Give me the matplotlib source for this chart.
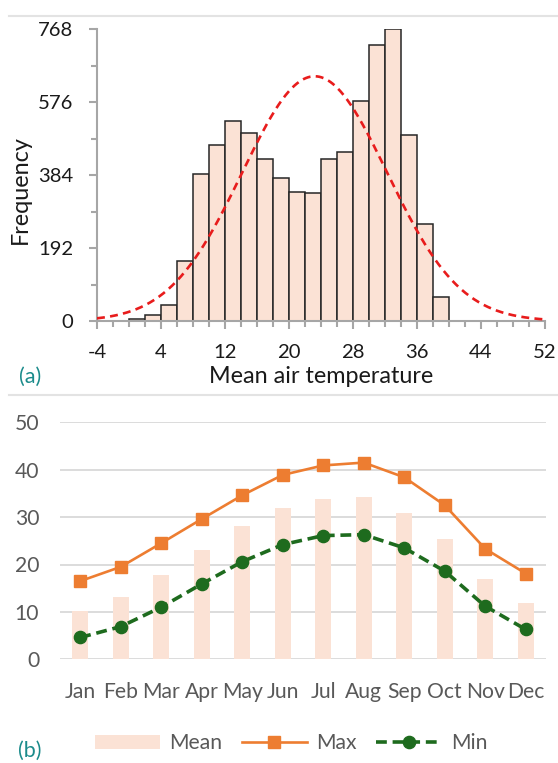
import numpy as np
import matplotlib
matplotlib.use("Agg")
import matplotlib.pyplot as plt
from matplotlib.lines import Line2D
from matplotlib.patches import Patch
from matplotlib.ticker import MultipleLocator

plt.rcParams['font.family'] = ['Lato', 'DejaVu Sans']

# ---------------- data ----------------
# (a) histogram of mean air temperature (bins of 2 degrees)
bin_left = [0, 2, 4, 6, 8, 10, 12, 14, 16, 18, 20, 22, 24, 26, 28, 30, 32, 34, 36, 38]
counts = [4, 15, 41, 157, 386, 462, 525, 494, 425, 375, 338, 336, 426, 444, 579, 725, 767, 490, 255, 63]
bin_width = 2
x_ticks_a = [-4, 4, 12, 20, 28, 36, 44, 52]
y_ticks_a = [0, 192, 384, 576, 768]

# (b) monthly temperatures
months = ['Jan', 'Feb', 'Mar', 'Apr', 'May', 'Jun', 'Jul', 'Aug', 'Sep', 'Oct', 'Nov', 'Dec']
mean_t = [10.2, 13.1, 17.8, 23.0, 28.1, 31.9, 33.9, 34.2, 30.9, 25.4, 16.9, 11.8]
max_t = [16.5, 19.5, 24.5, 29.6, 34.6, 38.9, 40.9, 41.5, 38.4, 32.5, 23.3, 18.1]
min_t = [4.6, 6.9, 11.0, 15.9, 20.6, 24.2, 26.1, 26.3, 23.5, 18.6, 11.2, 6.3]
y_ticks_b = [0, 10, 20, 30, 40, 50]

# ---------------- figure ----------------
W, H = 558, 763
fig = plt.figure(figsize=(W / 100, H / 100), dpi=100)

def fx(px):
    return px / W

def fy(py):
    return 1 - py / H

BAR_FACE = '#fbe2d5'
SPINE = '#a6a6a6'
TEAL = '#1b8b8b'

# ---------- panel (a) ----------
axa = fig.add_axes([fx(97), fy(321), fx(545) - fx(97), fy(29) - fy(321)])
axa.bar(bin_left, counts, width=bin_width, align='edge', color=BAR_FACE,
        edgecolor='#262626', linewidth=1.1, zorder=2)

mids = np.array(bin_left, dtype=float) + bin_width / 2
cnt = np.array(counts, dtype=float)
n_tot = cnt.sum()
mu = (cnt * mids).sum() / n_tot
sd = np.sqrt((cnt * (mids - mu) ** 2).sum() / n_tot)
xs = np.linspace(x_ticks_a[0], x_ticks_a[-1], 400)
ys = n_tot * bin_width * np.exp(-0.5 * ((xs - mu) / sd) ** 2) / (sd * np.sqrt(2 * np.pi))
axa.plot(xs, ys, color='#e81c1c', lw=1.9, dashes=(3, 2), zorder=3)

axa.set_xlim(x_ticks_a[0], x_ticks_a[-1])
axa.set_ylim(y_ticks_a[0], y_ticks_a[-1])
axa.set_xticks(x_ticks_a)
axa.set_yticks(y_ticks_a)
axa.set_xticklabels([str(v) for v in x_ticks_a])
axa.set_yticklabels([str(v) for v in y_ticks_a])
axa.xaxis.set_minor_locator(MultipleLocator(2))
axa.yaxis.set_minor_locator(MultipleLocator(96))
for s in ['top', 'right']:
    axa.spines[s].set_visible(False)
for s in ['left', 'bottom']:
    axa.spines[s].set_color(SPINE)
    axa.spines[s].set_linewidth(1.5)
axa.tick_params(which='major', length=6, width=1.5, color=SPINE, labelsize=14.6,
                labelcolor='#1a1a1a')
axa.tick_params(which='minor', length=4, width=1.5, color=SPINE)
axa.tick_params(axis='x', which='major', pad=10.5)
axa.tick_params(axis='y', which='major', pad=11)
axa.set_xlabel('Mean air temperature', fontsize=16.8, color='#1a1a1a', va='center')
axa.xaxis.set_label_coords(0.5, -0.19)
axa.set_ylabel('Frequency', fontsize=16.8, color='#1a1a1a', va='center')
axa.yaxis.set_label_coords((20 - 97) / 448, (321 - 190) / 292)
axa.set_facecolor('none')

fig.text(fx(30), fy(377), '(a)', fontsize=15.5, color=TEAL, ha='center', va='center')

# ---------- panel (b) ----------
axb = fig.add_axes([fx(60), fy(659.3), fx(546) - fx(60), fy(422.3) - fy(659.3)])
xb = np.arange(len(months))
axb.bar(xb, mean_t, width=0.4, color=BAR_FACE, zorder=2, label='Mean')
axb.plot(xb, max_t, color='#ed7d31', lw=1.9, marker='s', ms=8.3, zorder=3, label='Max')
axb.plot(xb, min_t, color='#1e6b1e', lw=2.6, dashes=(3, 1.6), marker='o', ms=8.8,
         zorder=4, label='Min')
axb.set_xlim(-0.5, len(months) - 0.5)
axb.set_ylim(y_ticks_b[0], y_ticks_b[-1])
axb.set_yticks(y_ticks_b)
axb.set_yticklabels([str(v) for v in y_ticks_b])
axb.set_xticks(xb)
axb.set_xticklabels(months)
axb.grid(axis='y', color='#d9d9d9', lw=1.3, zorder=0)
axb.set_axisbelow(True)
for s in axb.spines.values():
    s.set_visible(False)
axb.tick_params(axis='both', length=0, labelsize=15.2, labelcolor='#595959')
axb.tick_params(axis='y', pad=15)
axb.tick_params(axis='x', pad=16)
axb.set_facecolor('none')

handles = [Patch(facecolor=BAR_FACE, edgecolor='none'),
           Line2D([], [], color='#ed7d31', lw=1.9, marker='s', ms=8.3),
           Line2D([], [], color='#1e6b1e', lw=2.6, dashes=(3, 1.6), marker='o', ms=8.8)]
leg = fig.legend(handles, ['Mean', 'Max', 'Min'], loc='center', ncol=3,
                 bbox_to_anchor=(fx(291), fy(743)), frameon=False, fontsize=15.2,
                 handlelength=3.1, handleheight=0.65, handletextpad=0.45,
                 columnspacing=0.9, labelcolor='#595959')

fig.text(fx(30), fy(751), '(b)', fontsize=15.5, color=TEAL, ha='center', va='center')

# chart-area separator lines
for ypx in (16, 395):
    fig.add_artist(Line2D([fx(9), 1.0], [fy(ypx), fy(ypx)], transform=fig.transFigure,
                          color='#e3e3e3', lw=1.5))

fig.savefig('out.png', dpi=100)
